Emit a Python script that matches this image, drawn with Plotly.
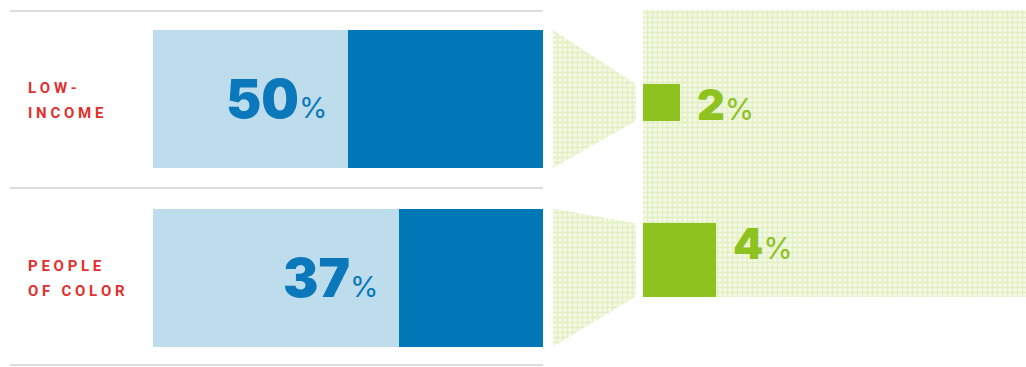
import plotly.graph_objects as go

# ---- data ----
label_lines = [["LOW-", "INCOME"], ["PEOPLE", "OF COLOR"]]
share_pct = [50, 37]      # dark blue segment of each bar
green_pct = [2, 4]        # green squares

# ---- page geometry (pixels) ----
W, H = 1026, 367
BAR_X0, BAR_X1 = 153, 543
ROW_CENTER = [99, 277.5]
ROW_STEP = ROW_CENTER[1] - ROW_CENTER[0]
BAR_H = 138
SQ_X0 = 643
SQ_CENTER = [102.5, 260]
K = 18.3                   # px per percent for square sides

LIGHT_BLUE = "#bddcec"
DARK_BLUE = "#0077b6"
GREEN = "#8dc21f"
RED = "#e2302f"
PAT = dict(shape="+", fgcolor="#cfe59d", bgcolor="#f3f9e4", size=5, solidity=0.45)

fig = go.Figure()

# stacked bars: light remainder, then dark share
fig.add_trace(go.Bar(
    y=[0, 1], x=[100 - v for v in share_pct], orientation="h",
    width=BAR_H / ROW_STEP, marker=dict(color=LIGHT_BLUE, line=dict(width=0)),
    hoverinfo="skip", showlegend=False, xaxis="x", yaxis="y"))
fig.add_trace(go.Bar(
    y=[0, 1], x=share_pct, orientation="h",
    width=BAR_H / ROW_STEP, marker=dict(color=DARK_BLUE, line=dict(width=0)),
    hoverinfo="skip", showlegend=False, xaxis="x", yaxis="y"))

# patterned backdrop and funnels (pixel-unit subplot)
def poly(xs, ys):
    return go.Scatter(
        x=xs + [xs[0]], y=ys + [ys[0]], mode="lines", fill="toself",
        line=dict(width=0), fillcolor=PAT["bgcolor"], fillpattern=PAT,
        hoverinfo="skip", showlegend=False, xaxis="x2", yaxis="y2")

fig.add_trace(poly([SQ_X0, W, W, SQ_X0], [10, 10, 297, 297]))
for i, g in enumerate(green_pct):
    c = ROW_CENTER[i]
    half = g * K / 2
    fig.add_trace(poly(
        [553, 636, 636, 553],
        [c - BAR_H / 2, SQ_CENTER[i] - half, SQ_CENTER[i] + half, c + BAR_H / 2]))

# green squares: side length proportional to value
fig.add_trace(go.Bar(
    y=[c / K for c in SQ_CENTER], x=green_pct, width=green_pct, orientation="h",
    marker=dict(color=GREEN, line=dict(width=0)),
    hoverinfo="skip", showlegend=False, xaxis="x3", yaxis="y3"))

annotations = []
# row labels
for i, lines in enumerate(label_lines):
    for j, line in enumerate(lines):
        spaced = " ".join(ch if ch != " " else "\u00a0" for ch in line)
        annotations.append(dict(
            xref="x2", yref="y2", x=26, y=ROW_CENTER[i] - 11 + j * 25 + (i * -1),
            text=spaced, showarrow=False, xanchor="left", yanchor="middle",
            font=dict(family="Roboto", size=15, color=RED, weight=700)))

# big percentage labels at the light/dark boundary
for i, v in enumerate(share_pct):
    annotations.append(dict(
        xref="x", yref="y", x=100 - v, y=i, xanchor="right", yanchor="middle",
        xshift=-19, yshift=0, showarrow=False,
        text=f"{v}<span style='font-size:29px;font-weight:400'>%</span>",
        font=dict(family="Inter", size=53, color="#0a78bb", weight=900)))

# green labels beside the squares
for i, g in enumerate(green_pct):
    annotations.append(dict(
        xref="x3", yref="y3", x=g, y=SQ_CENTER[i] / K - g / 2,
        xanchor="left", yanchor="middle", xshift=15, yshift=-20, showarrow=False,
        text=f"{g}<span style='font-size:30px;font-weight:400'>%</span>",
        font=dict(family="Inter", size=43, color=GREEN, weight=900)))

shapes = [
    dict(type="line", xref="x2", yref="y2", x0=10, x1=BAR_X1, y0=y, y1=y,
         line=dict(color="#dcdcdc", width=2))
    for y in (11, 188, 365)
]

hidden = dict(visible=False, fixedrange=True)
fig.update_layout(
    width=W, height=H, margin=dict(l=0, r=0, t=0, b=0),
    paper_bgcolor="white", plot_bgcolor="rgba(0,0,0,0)",
    barmode="stack", showlegend=False,
    xaxis=dict(domain=[BAR_X0 / W, BAR_X1 / W], range=[0, 100], anchor="y", **hidden),
    yaxis=dict(domain=[0, 1],
               range=[(H - ROW_CENTER[0]) / ROW_STEP, -ROW_CENTER[0] / ROW_STEP],
               anchor="x", **hidden),
    xaxis2=dict(domain=[0, 1], range=[0, W], anchor="y2", **hidden),
    yaxis2=dict(domain=[0, 1], range=[H, 0], anchor="x2", **hidden),
    xaxis3=dict(domain=[SQ_X0 / W, 1], range=[0, (W - SQ_X0) / K], anchor="y3", **hidden),
    yaxis3=dict(domain=[0, 1], range=[H / K, 0], anchor="x3", **hidden),
    annotations=annotations, shapes=shapes,
)

fig.write_html("out.html")
